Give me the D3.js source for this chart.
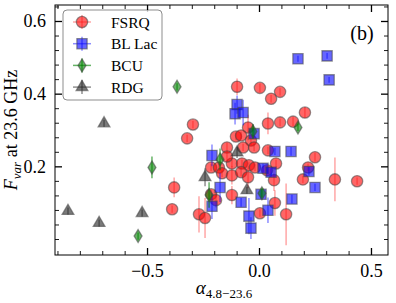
<!DOCTYPE html>
<html>
<head>
<meta charset="utf-8">
<script src="https://cdn.jsdelivr.net/npm/d3@7"></script>
<style>
  body { margin: 0; background: #fff; }
  svg text { font-family: "Liberation Serif", "DejaVu Serif", serif; }
</style>
</head>
<body>
<div class="chart"></div>
<script>
// chart values
var fsrqAlpha = [-0.098, 0.004, 0.054, 0.094, -0.295, -0.321, -0.049, 0.040, 0.094, 0.152,
  0.205, -0.103, -0.080, -0.036, -0.143, -0.071, -0.022, 0.040, -0.214, -0.179,
  -0.121, -0.076, -0.045, -0.018, 0.076, -0.165, -0.121, -0.080, -0.049, 0.036,
  0.067, 0.250, 0.219, 0.196, 0.339, 0.438, -0.214, -0.192, -0.121, 0.071,
  0.004, 0.121, -0.268, -0.241, -0.388, -0.379, -0.143];
var fsrqFvar = [0.419, 0.416, 0.386, 0.405, 0.315, 0.277, 0.307, 0.318, 0.321, 0.323,
  0.348, 0.282, 0.285, 0.271, 0.252, 0.252, 0.252, 0.244, 0.197, 0.197,
  0.208, 0.208, 0.203, 0.197, 0.208, 0.181, 0.175, 0.184, 0.170, 0.189,
  0.162, 0.225, 0.197, 0.164, 0.164, 0.159, 0.123, 0.107, 0.121, 0.099,
  0.071, 0.068, 0.068, 0.058, 0.082, 0.142, 0.227];
var fsrqErr = [0.023, 0.012, 0.010, 0.010, 0.010, 0.010, 0.035, 0.030, 0.010, 0.012,
  0.015, 0.010, 0.010, 0.012, 0.012, 0.010, 0.010, 0.010, 0.010, 0.010,
  0.010, 0.010, 0.010, 0.010, 0.010, 0.010, 0.025, 0.012, 0.030, 0.012,
  0.030, 0.012, 0.010, 0.010, 0.060, 0.010, 0.012, 0.020, 0.025, 0.035,
  0.010, 0.085, 0.050, 0.055, 0.010, 0.027, 0.012];

var bllacAlpha = [0.174, 0.304, 0.313, -0.098, -0.107, -0.071, -0.022, 0.071, 0.143, -0.210,
  0.018, 0.054, 0.223, 0.250, 0.147, -0.174, -0.080, -0.210, -0.045, 0.040,
  -0.036, 0.009];
var bllacFvar = [0.496, 0.504, 0.438, 0.370, 0.345, 0.348, 0.290, 0.241, 0.241, 0.230,
  0.195, 0.184, 0.186, 0.142, 0.110, 0.142, 0.101, 0.090, 0.063, 0.079,
  0.030, 0.123];
var bllacErr = [0.008, 0.008, 0.008, 0.025, 0.030, 0.035, 0.012, 0.010, 0.012, 0.030,
  0.012, 0.012, 0.012, 0.010, 0.012, 0.040, 0.012, 0.035, 0.050, 0.035,
  0.030, 0.012];

var bcuAlpha = [-0.366, -0.478, -0.540, 0.174, -0.027, -0.174, 0.013, -0.223];
var bcuFvar = [0.419, 0.197, 0.008, 0.307, 0.296, 0.219, 0.126, 0.121];
var bcuErr = [0.010, 0.030, 0.010, 0.010, 0.020, 0.030, 0.012, 0.035];

var rdgAlpha = [-0.692, -0.853, -0.714, -0.522, -0.241, -0.054, -0.098];
var rdgFvar = [0.318, 0.077, 0.044, 0.071, 0.170, 0.134, 0.238];
var rdgErr = [0.010, 0.010, 0.010, 0.010, 0.025, 0.010, 0.015];

var classNames = ["FSRQ", "BL Lac", "BCU", "RDG"];

var xMajorTicks = [-0.5, 0, 0.5];
var xTickLabels = ["\u22120.5", "0.0", "0.5"];
var yMajorTicks = [0.2, 0.4, 0.6];
var yTickLabels = ["0.2", "0.4", "0.6"];

// size of the picture and plot area
var svgWidth = 396;
var svgHeight = 303;
var margin = { top: 5, right: 8, bottom: 48, left: 55 };
var width = svgWidth - margin.left - margin.right;
var height = svgHeight - margin.top - margin.bottom;

var svg = d3.select(".chart")
  .append("svg")
  .attr("width", svgWidth)
  .attr("height", svgHeight);

var chartGroup = svg.append("g")
  .attr("transform", `translate(${margin.left}, ${margin.top})`);

var xScale = d3.scaleLinear().domain([-0.911, 0.576]).range([0, width]);
var yScale = d3.scaleLinear().domain([-0.044, 0.644]).range([height, 0]);

// minor ticks every 0.1 on x and 0.04 on y
var xMinorTicks = d3.range(-9, 6).map(d => d / 10).filter(d => xMajorTicks.indexOf(d) < 0);
var yMinorTicks = d3.range(0, 17).map(d => +(d * 0.04).toFixed(2))
  .filter(d => yMajorTicks.indexOf(d) < 0);

function styleAxis(g, w) {
  g.select(".domain").remove();
  g.selectAll("line").attr("stroke", "#000").attr("stroke-width", w);
}

function styleLabels(g) {
  g.selectAll("text")
    .style("font-family", "'Liberation Serif', serif")
    .style("font-size", "18px")
    .attr("fill", "#000");
}

// bottom / top
chartGroup.append("g")
  .attr("transform", `translate(0, ${height})`)
  .call(d3.axisBottom(xScale).tickValues(xMinorTicks).tickSize(-4).tickFormat(""))
  .call(g => styleAxis(g, 0.9));
chartGroup.append("g")
  .attr("transform", `translate(0, ${height})`)
  .call(d3.axisBottom(xScale).tickValues(xMajorTicks).tickSize(-7).tickPadding(9)
    .tickFormat((d, i) => xTickLabels[i]))
  .call(g => styleAxis(g, 1.3))
  .call(styleLabels);
chartGroup.append("g")
  .call(d3.axisTop(xScale).tickValues(xMinorTicks).tickSize(-4).tickFormat(""))
  .call(g => styleAxis(g, 0.9));
chartGroup.append("g")
  .call(d3.axisTop(xScale).tickValues(xMajorTicks).tickSize(-7).tickFormat(""))
  .call(g => styleAxis(g, 1.3));

// left / right
chartGroup.append("g")
  .call(d3.axisLeft(yScale).tickValues(yMinorTicks).tickSize(-4).tickFormat(""))
  .call(g => styleAxis(g, 0.9));
chartGroup.append("g")
  .call(d3.axisLeft(yScale).tickValues(yMajorTicks).tickSize(-7).tickPadding(9)
    .tickFormat((d, i) => yTickLabels[i]))
  .call(g => styleAxis(g, 1.3))
  .call(styleLabels);
chartGroup.append("g")
  .attr("transform", `translate(${width}, 0)`)
  .call(d3.axisRight(yScale).tickValues(yMinorTicks).tickSize(-4).tickFormat(""))
  .call(g => styleAxis(g, 0.9));
chartGroup.append("g")
  .attr("transform", `translate(${width}, 0)`)
  .call(d3.axisRight(yScale).tickValues(yMajorTicks).tickSize(-7).tickFormat(""))
  .call(g => styleAxis(g, 1.3));

// series: errorbars, then markers, in legend order
var series = [
  { name: classNames[0], a: fsrqAlpha, f: fsrqFvar, e: fsrqErr, shape: d3.symbolCircle, size: 100,
    fill: "red", bar: "red", barOpacity: 0.35 },
  { name: classNames[1], a: bllacAlpha, f: bllacFvar, e: bllacErr, shape: d3.symbolSquare, size: 105,
    fill: "blue", bar: "blue", barOpacity: 0.45 },
  { name: classNames[2], a: bcuAlpha, f: bcuFvar, e: bcuErr, shape: "diamond", size: 0,
    fill: "green", bar: "green", barOpacity: 0.6 },
  { name: classNames[3], a: rdgAlpha, f: rdgFvar, e: rdgErr, shape: d3.symbolTriangle, size: 60,
    fill: "#222", bar: "#222", barOpacity: 0.5 }
];

function markerPath(s) {
  if (s.shape === "diamond") return "M0,-6.5L4,0L0,6.5L-4,0Z";
  return d3.symbol().type(s.shape).size(s.size)();
}

var plotArea = chartGroup.append("g");

series.forEach(function(s) {
  var pts = s.a.map((v, i) => ({ a: v, f: s.f[i], e: s.e[i] }));

  plotArea.selectAll(null)
    .data(pts)
    .enter()
    .append("line")
    .attr("x1", d => xScale(d.a))
    .attr("x2", d => xScale(d.a))
    .attr("y1", d => yScale(d.f - d.e))
    .attr("y2", d => yScale(d.f + d.e))
    .attr("stroke", s.bar)
    .attr("stroke-opacity", s.barOpacity)
    .attr("stroke-width", 1.5);

  plotArea.selectAll(null)
    .data(pts)
    .enter()
    .append("path")
    .attr("d", markerPath(s))
    .attr("transform", d => `translate(${xScale(d.a)}, ${yScale(d.f)})`)
    .attr("fill", s.fill)
    .attr("fill-opacity", 0.6)
    .attr("stroke", "#444")
    .attr("stroke-opacity", 0.55)
    .attr("stroke-width", 1.3);
});

// frame
chartGroup.append("rect")
  .attr("width", width)
  .attr("height", height)
  .attr("fill", "none")
  .attr("stroke", "#000")
  .attr("stroke-width", 1);

// legend
var legend = chartGroup.append("g")
  .attr("transform", `translate(${63 - margin.left}, ${10 - margin.top})`);

legend.append("rect")
  .attr("width", 99)
  .attr("height", 90)
  .attr("rx", 4)
  .attr("fill", "#fff")
  .attr("fill-opacity", 0.8)
  .attr("stroke", "#000")
  .attr("stroke-opacity", 0.45)
  .attr("stroke-width", 1);

series.forEach(function(s, i) {
  var row = legend.append("g")
    .attr("transform", `translate(19, ${12 + i * 21.7})`);
  row.append("line")
    .attr("x1", -9).attr("x2", 9)
    .attr("stroke", s.bar).attr("stroke-opacity", s.barOpacity).attr("stroke-width", 1.5);
  row.append("line")
    .attr("y1", -7).attr("y2", 7)
    .attr("stroke", s.bar).attr("stroke-opacity", s.barOpacity).attr("stroke-width", 1.5);
  row.append("path")
    .attr("d", markerPath(s))
    .attr("fill", s.fill)
    .attr("fill-opacity", 0.6)
    .attr("stroke", "#444")
    .attr("stroke-opacity", 0.55)
    .attr("stroke-width", 1.3);
  row.append("text")
    .attr("x", 29)
    .attr("y", 5.5)
    .attr("font-size", 15.5)
    .text(s.name);
});

// panel tag
chartGroup.append("text")
  .attr("x", 362 - margin.left)
  .attr("y", 40 - margin.top)
  .attr("text-anchor", "middle")
  .attr("font-size", 20)
  .text("(b)");

// axis titles
var xTitle = svg.append("text")
  .attr("x", 224)
  .attr("y", 294)
  .attr("text-anchor", "middle")
  .attr("font-size", 19);
xTitle.append("tspan").attr("font-style", "italic").text("\u03b1");
xTitle.append("tspan").attr("font-size", 13).attr("dy", 4).text("4.8\u221223.6");

var yTitle = svg.append("text")
  .attr("transform", "translate(17, 130) rotate(-90)")
  .attr("text-anchor", "middle")
  .attr("font-size", 18);
yTitle.append("tspan").attr("font-style", "italic").text("F");
yTitle.append("tspan").attr("font-style", "italic").attr("font-size", 13).attr("dy", 4).text("var");
yTitle.append("tspan").attr("dy", -4).text(" at 23.6 GHz");
</script>
</body>
</html>
